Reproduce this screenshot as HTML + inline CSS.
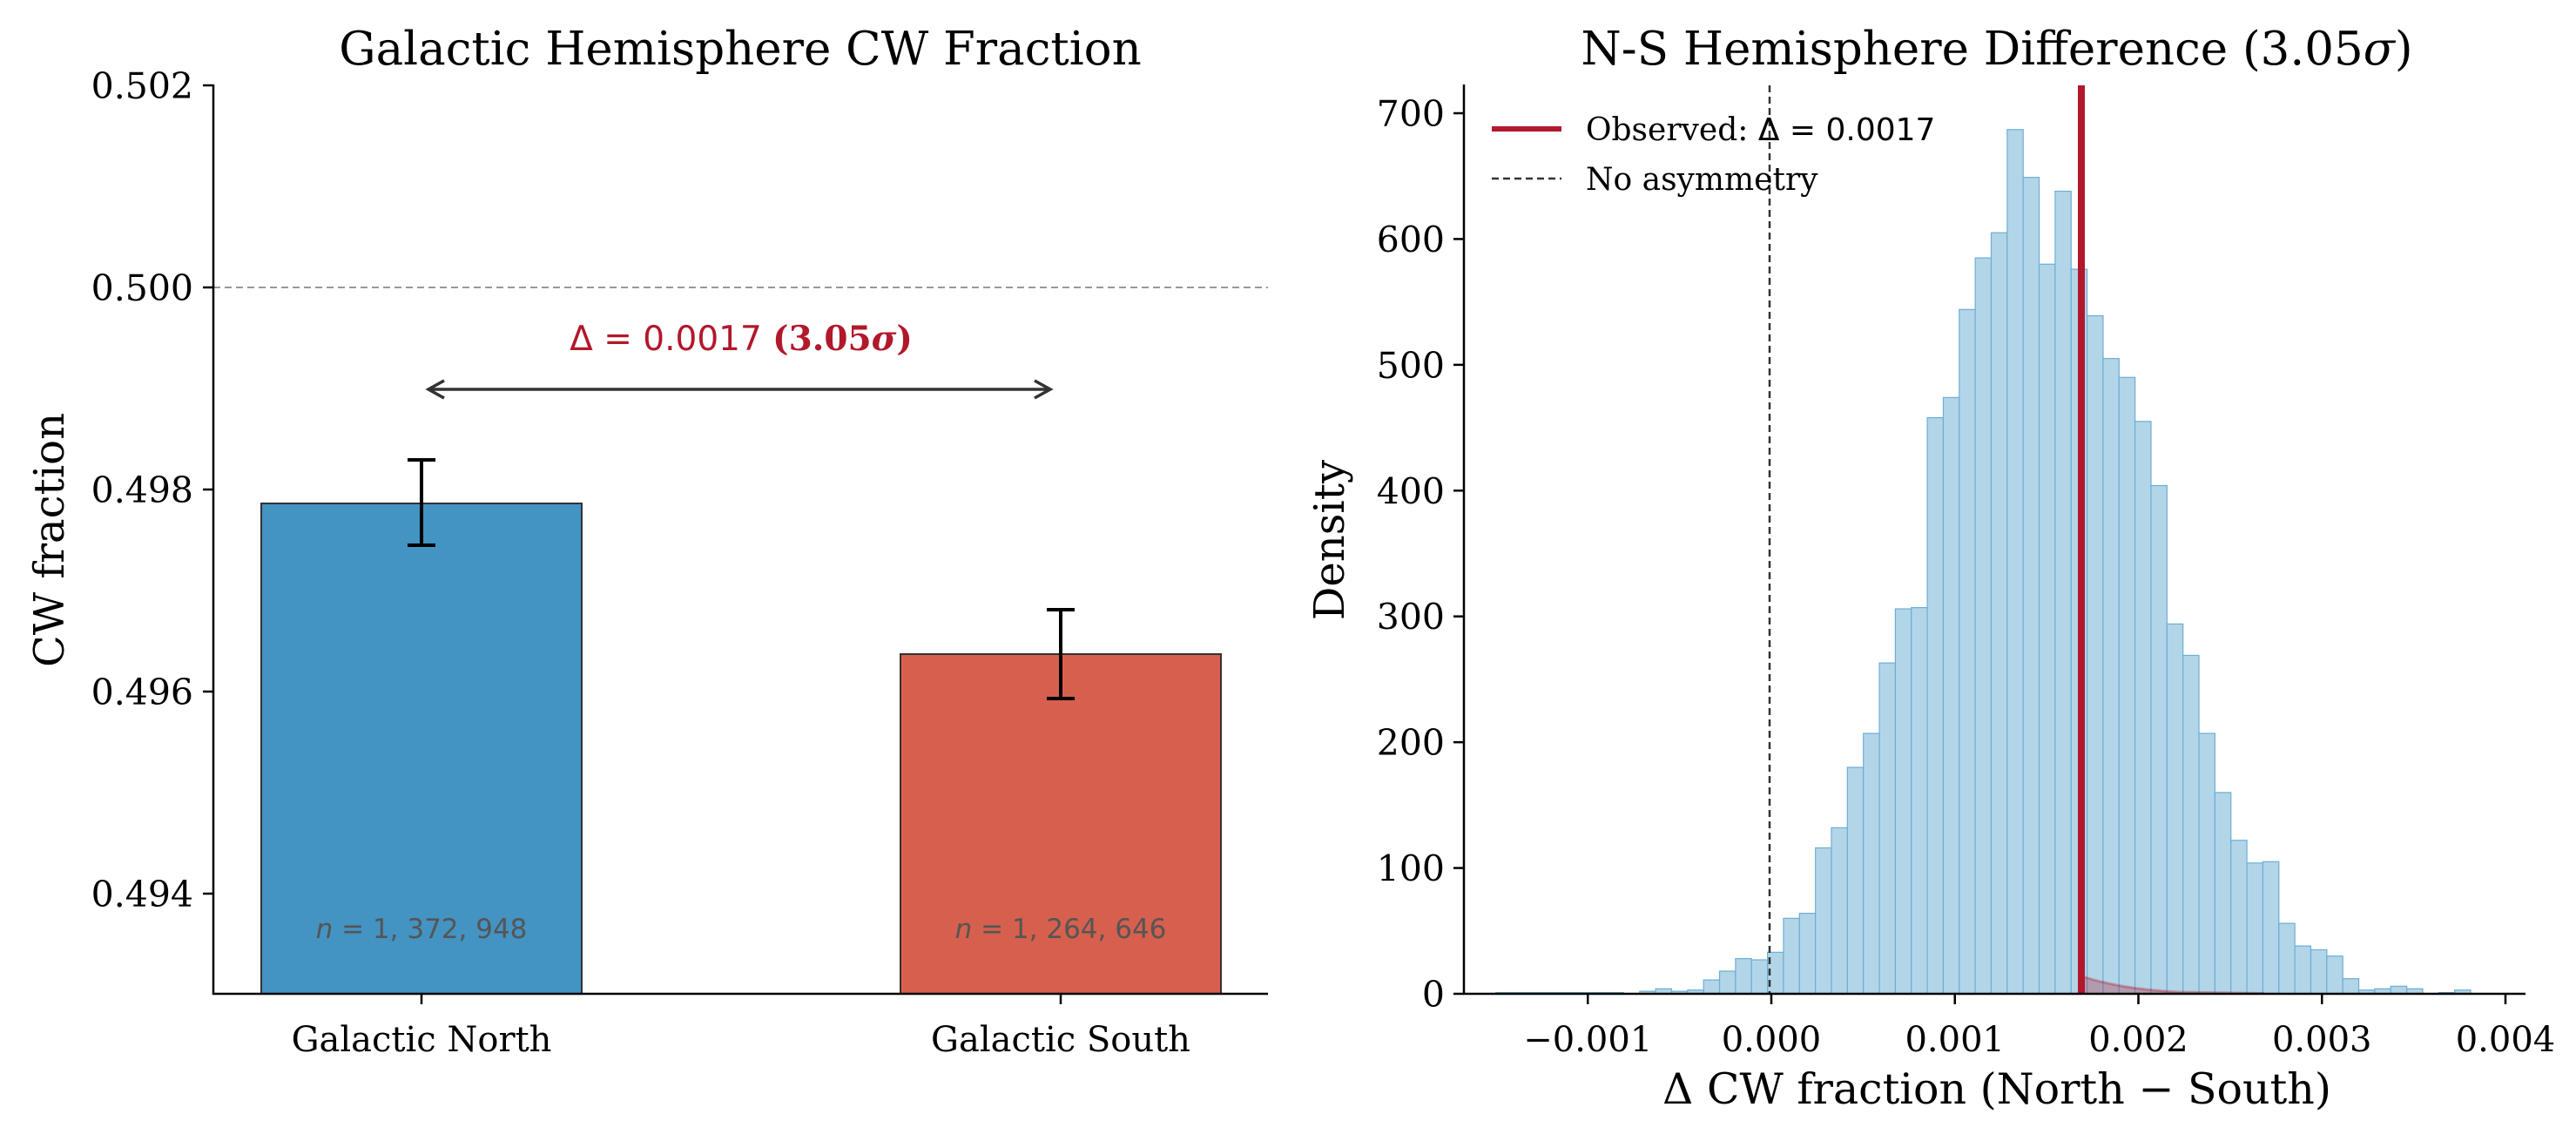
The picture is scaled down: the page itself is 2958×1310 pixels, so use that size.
<!DOCTYPE html>
<html><head><meta charset="utf-8"><style>
html,body{margin:0;padding:0;background:#fff;}
svg{display:block;}
text{font-family:"DejaVu Serif","Liberation Serif",serif;}
.s{font-family:"DejaVu Sans","Liberation Sans",sans-serif;}
</style></head><body>
<svg id="svg" width="2958" height="1310" viewBox="0 0 2958 1310" xmlns="http://www.w3.org/2000/svg" fill="#000">
<rect width="2958" height="1310" fill="#fff"/>
<!-- LEFT PANEL -->
<text x="850" y="74" font-size="53" text-anchor="middle">Galactic Hemisphere CW Fraction</text>
<line x1="245" y1="330" x2="1456" y2="330" stroke="#999" stroke-width="2" stroke-dasharray="8,5"/>
<rect x="300" y="578" width="368" height="563" fill="#4393c3" stroke="#333" stroke-width="2"/>
<rect x="1034" y="751" width="368" height="390" fill="#d6604d" stroke="#333" stroke-width="2"/>
<g stroke="#000" stroke-width="4">
<line x1="484" y1="528" x2="484" y2="626"/><line x1="468" y1="528" x2="500" y2="528"/><line x1="468" y1="626" x2="500" y2="626"/>
<line x1="1218" y1="700" x2="1218" y2="802"/><line x1="1202" y1="700" x2="1234" y2="700"/><line x1="1202" y1="802" x2="1234" y2="802"/>
</g>
<g stroke="#333" stroke-width="3.5" fill="none">
<line x1="492" y1="447" x2="1206" y2="447"/>
<polyline points="510,437 492,447 510,457"/><polyline points="1188,437 1206,447 1188,457"/>
</g>
<text x="851" y="402" font-size="39" text-anchor="middle" fill="#b2182b"><tspan class="s">Δ = 0.0017 </tspan><tspan font-weight="bold">(3.05</tspan><tspan font-weight="bold" font-style="italic">σ</tspan><tspan font-weight="bold">)</tspan></text>
<text class="s" x="484" y="1077" font-size="31" text-anchor="middle" fill="#555"><tspan font-style="italic">n</tspan> = 1, 372, 948</text>
<text class="s" x="1218" y="1077" font-size="31" text-anchor="middle" fill="#555"><tspan font-style="italic">n</tspan> = 1, 264, 646</text>
<g stroke="#000" stroke-width="2.5">
<line x1="245" y1="97" x2="245" y2="1142"/><line x1="244" y1="1141" x2="1456" y2="1141"/>
<line x1="233" y1="98" x2="245" y2="98"/><line x1="233" y1="330" x2="245" y2="330"/><line x1="233" y1="562" x2="245" y2="562"/><line x1="233" y1="794" x2="245" y2="794"/><line x1="233" y1="1026" x2="245" y2="1026"/>
<line x1="484" y1="1141" x2="484" y2="1153"/><line x1="1218" y1="1141" x2="1218" y2="1153"/>
</g>
<g font-size="41" text-anchor="end">
<text x="222" y="113">0.502</text><text x="222" y="345">0.500</text><text x="222" y="577">0.498</text><text x="222" y="809">0.496</text><text x="222" y="1041">0.494</text>
</g>
<text x="484" y="1207" font-size="40" text-anchor="middle">Galactic North</text>
<text x="1218" y="1207" font-size="40" text-anchor="middle">Galactic South</text>
<text x="0" y="0" font-size="48" text-anchor="middle" transform="translate(73,620) rotate(-90)">CW fraction</text>
<!-- RIGHT PANEL -->
<text x="2293" y="74" font-size="53" text-anchor="middle">N-S Hemisphere Difference (3.05<tspan font-style="italic">σ</tspan>)</text>
<g id="hist"></g>
<path d="M2394,1122 C2420,1130 2450,1136 2500,1139 L2600,1140.5 L2394,1141 Z" fill="#b2182b" fill-opacity="0.3"/>
<path d="M2394,1122 C2420,1130 2450,1136 2500,1139 L2600,1140.5" fill="none" stroke="#b2182b" stroke-opacity="0.35" stroke-width="3"/>
<line x1="2032" y1="98" x2="2032" y2="1141" stroke="#333" stroke-width="2.5" stroke-dasharray="8,5"/>
<line x1="2390" y1="98" x2="2390" y2="1141" stroke="#b2182b" stroke-width="8"/>
<g stroke="#000" stroke-width="2.5">
<line x1="1681" y1="97" x2="1681" y2="1142"/><line x1="1680" y1="1141" x2="2900" y2="1141"/>
</g>
<g id="rticks"></g>
<line x1="1713" y1="148" x2="1793" y2="148" stroke="#b2182b" stroke-width="6"/>
<text x="1821" y="161" font-size="36">Observed: <tspan class="s">Δ = 0.0017</tspan></text>
<line x1="1713" y1="205" x2="1793" y2="205" stroke="#333" stroke-width="2.5" stroke-dasharray="8,5"/>
<text x="1821" y="218" font-size="36">No asymmetry</text>
<text x="2293" y="1267" font-size="49" text-anchor="middle">Δ CW fraction (North − South)</text>
<text x="0" y="0" font-size="48" text-anchor="middle" transform="translate(1543,620) rotate(-90)">Density</text>
</svg>
<script>
var NS="http://www.w3.org/2000/svg";
function el(t,a,p,txt){var e=document.createElementNS(NS,t);for(var k in a)e.setAttribute(k,a[k]);if(txt!==undefined)e.textContent=txt;p.appendChild(e);return e;}
var h={"-17":1,"-16":1,"-15":1,"-14":1,"-13":1,"-12":1,"-11":1,"-10":1,"-9":0,"-8":2,"-7":4,"-6":2,"-5":3,"-4":11,"-3":18,"-2":28,"-1":27};
var arr=[33,60,64,116,132,180,207,263,306,307,458,474,544,585,605,687,649,580,638,576,539,505,490,455,404,294,269,207,160,122,104,105,56,38,35,30,12,3,4,6,4,0,1,3];
arr.forEach(function(v,i){h[i]=v;});
var g=document.getElementById("hist");var y0=1141,sc=(1141-130)/700,x0=2029.6,w=18.35;
for(var k in h){var v=h[k];if(v<=0)continue;var x=x0+(+k)*w;var hh=v*sc;
el("rect",{x:x,y:y0-hh,width:w,height:hh,fill:"#b3d5e8",stroke:"#6baed6","stroke-width":1.2},g);}
var r=document.getElementById("rticks");
[0,100,200,300,400,500,600,700].forEach(function(v){var y=y0-v*sc;el("line",{x1:1669,y1:y,x2:1681,y2:y,stroke:"#000","stroke-width":2.5},r);el("text",{x:1659,y:y+15,"font-size":41,"text-anchor":"end"},r,String(v));});
[-0.001,0,0.001,0.002,0.003,0.004].forEach(function(v){var x=2034+v*210750;el("line",{x1:x,y1:1141,x2:x,y2:1153,stroke:"#000","stroke-width":2.5},r);el("text",{x:x,y:1207,"font-size":40,"text-anchor":"middle"},r,(v<0?"−0.001":v.toFixed(3)));});
</script>
</body></html>
